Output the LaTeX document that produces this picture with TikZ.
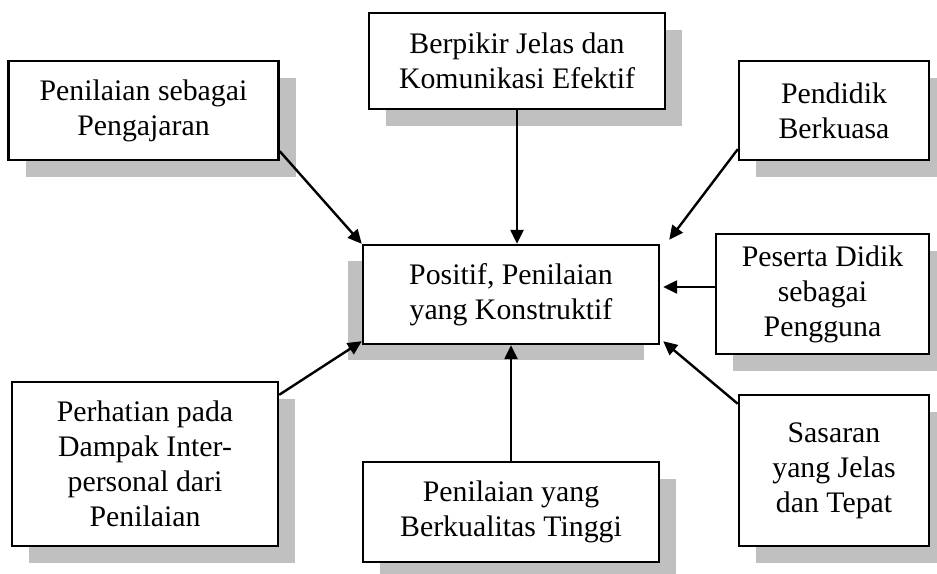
\documentclass[tikz,border=0pt]{standalone}
\usepackage{fontspec}
\setmainfont{Liberation Serif}
\usepackage{tikz}
\usetikzlibrary{arrows.meta,shadows}

\definecolor{shadowgray}{RGB}{192,192,192}

\begin{document}
\begin{tikzpicture}[
  x=0.5pt, y=-0.5pt,
  box/.style={draw, line width=1.2pt, fill=white,
    drop shadow={shadow xshift=8.5pt, shadow yshift=-8.5pt, fill=shadowgray, opacity=1}},
  centerbox/.style={draw, line width=1.2pt, fill=white,
    drop shadow={shadow xshift=-7.5pt, shadow yshift=-8pt, fill=shadowgray, opacity=1}},
  flow/.style={-{Triangle[length=7pt,width=6.5pt]}, line width=1.2pt},
  every node/.style={align=center, font=\fontsize{14.9}{17.5}\selectfont}]

\useasboundingbox (0,0) rectangle (937,573);

% Position the boxes around the centre
\node[centerbox, minimum width=148pt, minimum height=49.5pt] (penilaianKonstruktif) at (511,294.5) {Positif, Penilaian \\ yang Konstruktif};
\node[box, minimum width=135pt, minimum height=49.5pt] (penilaianPengajaran) at (143.5,110.5) {Penilaian sebagai \\ Pengajaran};
\node[box, minimum width=148pt, minimum height=48pt] (berpikirJelas) at (517,61) {Berpikir Jelas dan \\ Komunikasi Efektif};
\node[box, minimum width=95pt, minimum height=49.5pt] (pendidikBerkuasa) at (834,110.5) {Pendidik \\ Berkuasa};
\node[box, minimum width=106.5pt, minimum height=60pt] (pesertaDidik) at (822.5,294) {Peserta Didik \\ sebagai \\ Pengguna};
\node[box, minimum width=133pt, minimum height=82pt] (perhatianDampak) at (145,464) {Perhatian pada \\ Dampak Inter- \\ personal dari \\ Penilaian};
\node[box, minimum width=148pt, minimum height=50pt] (penilaianBerkualitas) at (511,512) {Penilaian yang \\ Berkualitas Tinggi};
\node[box, minimum width=95pt, minimum height=75.5pt] (sasaranJelas) at (834,470.5) {Sasaran \\ yang Jelas \\ dan Tepat};

% Draw the arrows into the centre box
\draw [flow] ([yshift=5pt]penilaianPengajaran.south east) -- (penilaianKonstruktif.north west);
\draw [flow] (berpikirJelas.south) -- (berpikirJelas.south |- penilaianKonstruktif.north);
\draw [flow] ([yshift=6pt]pendidikBerkuasa.south west) -- ([shift={(4.5pt,2pt)}]penilaianKonstruktif.north east);
\draw [flow] ([yshift=3.5pt]pesertaDidik.west) -- ([shift={(1.5pt,3.5pt)}]pesertaDidik.west -| penilaianKonstruktif.east);
\draw [flow] ([yshift=-5pt]sasaranJelas.north west) -- ([shift={(1.5pt,2pt)}]penilaianKonstruktif.south east);
\draw [flow] (penilaianBerkualitas.north) -- (penilaianBerkualitas.north |- penilaianKonstruktif.south);
\draw [flow] ([yshift=-7pt]perhatianDampak.north east) -- ([yshift=2pt]penilaianKonstruktif.south west);

\end{tikzpicture}
\end{document}
